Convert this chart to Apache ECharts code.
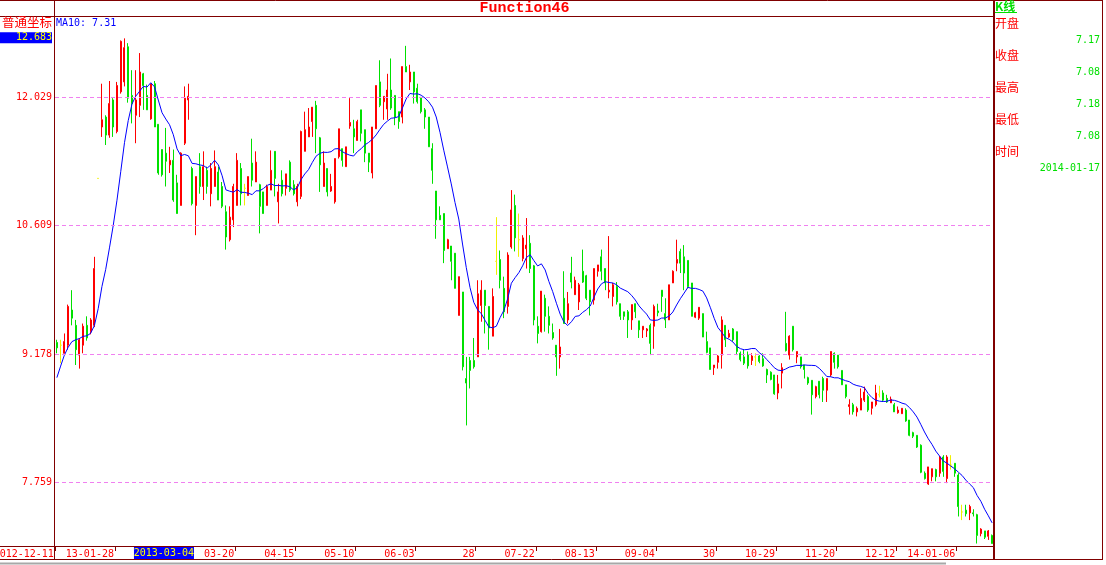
<!DOCTYPE html>
<html><head><meta charset="utf-8">
<script src="https://cdn.jsdelivr.net/npm/echarts@6/dist/echarts.min.js"></script>
<style>html,body{margin:0;padding:0;background:#fff;overflow:hidden}#c{width:1106px;height:565px}</style>
</head><body><div id="c"></div>
<script>
// ---- data ----
const opens = [9.31,9.28,9.19,9.28,9.67,9.50,9.17,9.28,9.50,9.43,
9.50,11.13,11.70,11.81,11.61,12.00,11.65,12.09,12.20,12.59,
12.05,11.83,11.94,12.29,12.05,11.79,12.18,11.73,11.45,11.41,
11.28,11.33,11.08,10.83,11.52,12.00,11.24,10.83,11.26,11.04,
11.22,10.96,11.04,11.20,11.04,10.76,10.45,10.67,10.83,11.24,
11.02,10.94,11.30,11.09,11.06,10.98,10.83,11.00,11.43,10.87,
11.11,11.02,11.31,11.06,10.87,10.93,11.43,11.59,11.76,11.94,
11.58,11.04,11.24,10.99,10.87,11.37,11.46,11.26,11.71,11.68,
11.55,11.89,11.67,11.41,11.19,11.68,12.20,11.98,11.90,12.11,
12.05,11.87,11.81,12.37,12.20,12.31,12.13,12.03,11.89,11.81,
11.46,10.99,10.72,10.74,10.35,10.38,10.30,9.61,9.87,8.91,
9.11,9.11,9.15,9.72,9.89,9.71,9.38,10.21,10.23,9.91,
9.71,10.37,10.83,10.45,10.24,10.35,10.41,10.16,9.49,9.43,
9.80,9.60,9.42,9.28,9.15,9.80,9.56,10.08,9.84,9.76,
10.10,10.05,9.89,9.78,10.10,10.26,10.13,9.87,9.82,9.93,
9.74,9.65,9.65,9.56,9.74,9.55,9.45,9.44,9.50,9.49,
9.66,9.89,9.63,9.56,9.97,10.19,10.32,10.26,10.22,9.97,
9.59,9.58,9.63,9.32,9.25,9.03,9.09,9.17,9.50,9.37,
9.46,9.43,9.19,9.15,9.17,9.11,9.15,9.16,9.13,9.01,
8.98,8.95,8.75,8.97,9.30,9.17,9.49,9.15,9.15,9.06,
8.92,8.89,8.71,8.88,8.91,8.78,8.95,9.19,9.17,9.00,
8.84,8.60,8.62,8.54,8.56,8.67,8.71,8.58,8.62,8.73,
8.75,8.69,8.64,8.62,8.53,8.52,8.56,8.45,8.31,8.28,
8.17,7.86,7.74,7.82,7.90,7.86,8.04,7.80,7.95,7.97,
7.84,7.43,7.45,7.42,7.42,7.40,7.19,7.22,7.16,7.17];
const closes = [9.25,9.28,9.32,9.71,9.58,9.23,9.34,9.49,9.36,9.56,
10.13,11.13,11.78,11.61,11.96,11.70,12.16,12.65,12.58,12.02,
11.96,12.00,12.31,12.16,11.89,12.18,11.70,11.19,11.17,11.32,
11.33,10.89,10.74,11.41,12.02,12.04,10.85,11.15,11.04,11.26,
11.04,11.24,11.26,10.89,10.82,10.48,10.70,11.04,11.33,10.96,
11.02,11.15,11.11,11.31,10.82,10.74,11.04,11.22,11.13,10.98,
10.96,11.18,11.00,10.96,11.04,11.65,11.67,11.70,11.92,11.68,
11.28,11.30,10.98,11.04,11.35,11.68,11.33,11.48,11.75,11.59,
11.76,11.63,11.41,11.31,11.70,12.16,11.94,12.04,12.11,11.91,
11.81,11.76,12.37,12.31,12.31,12.09,11.98,11.87,11.81,11.48,
11.22,10.67,10.67,10.33,10.45,10.21,9.91,10.04,9.04,8.86,
9.00,9.04,9.85,9.89,9.72,9.47,9.82,10.21,10.00,9.65,
10.28,10.78,10.47,10.45,10.47,10.39,10.13,9.56,9.41,9.88,
9.60,9.50,9.36,9.15,9.26,9.52,9.74,9.98,10.00,9.95,
9.98,9.80,9.76,10.13,10.17,10.10,9.97,9.89,9.95,9.76,
9.60,9.60,9.56,9.73,9.65,9.45,9.49,9.46,9.30,9.71,
9.64,9.82,9.56,9.95,10.10,10.23,10.19,10.08,9.93,9.60,
9.64,9.70,9.37,9.20,9.01,9.06,9.16,9.56,9.34,9.41,
9.34,9.21,9.12,9.08,9.05,9.16,9.15,9.10,9.05,8.95,
8.90,8.74,8.85,9.03,9.22,9.38,9.23,9.21,9.04,9.01,
8.86,8.73,8.82,8.73,8.78,8.91,9.21,9.09,9.04,8.84,
8.71,8.62,8.54,8.58,8.69,8.76,8.56,8.65,8.75,8.73,
8.67,8.65,8.68,8.54,8.56,8.58,8.44,8.28,8.27,8.15,
7.87,7.80,7.93,7.91,7.82,8.04,7.88,8.04,7.95,7.86,
7.49,7.43,7.41,7.49,7.41,7.17,7.24,7.15,7.22,7.08];
const lows = [9.19,9.08,9.19,9.23,9.50,9.06,9.02,9.19,9.33,9.40,
9.48,11.13,11.59,11.50,11.58,11.59,11.63,12.07,12.15,11.97,
11.74,11.52,11.81,11.89,11.89,11.78,11.70,11.17,11.15,11.04,
11.19,10.87,10.74,10.83,11.50,11.78,10.83,10.50,10.96,10.89,
10.96,10.82,11.04,10.89,10.80,10.34,10.43,10.59,10.83,10.83,
10.83,10.94,11.04,11.09,10.52,10.74,10.83,11.00,10.93,10.63,
10.93,10.94,10.98,10.94,10.82,10.90,11.43,11.59,11.59,11.41,
10.98,11.04,10.93,10.98,10.85,11.35,11.26,11.26,11.68,11.41,
11.55,11.54,11.31,11.20,11.13,11.68,11.92,11.78,11.78,11.89,
11.72,11.68,11.74,12.31,12.11,11.96,11.96,11.85,11.68,11.48,
11.07,10.46,10.67,10.19,10.35,10.00,9.91,9.61,9.00,8.39,
8.80,9.02,9.15,9.54,9.41,9.23,9.38,10.06,9.91,9.58,
9.63,10.35,10.32,10.26,10.21,10.13,10.08,9.50,9.30,9.42,
9.43,9.41,9.34,8.94,9.02,9.52,9.52,9.91,9.84,9.67,
9.97,9.78,9.61,9.73,10.04,10.00,9.89,9.80,9.71,9.73,
9.56,9.56,9.36,9.45,9.58,9.36,9.36,9.37,9.17,9.24,
9.60,9.65,9.47,9.56,9.97,10.10,10.08,9.89,9.91,9.60,
9.58,9.56,9.37,9.19,9.01,8.95,9.02,9.02,9.26,9.36,
9.32,9.17,9.10,9.06,9.02,9.06,9.05,9.08,9.04,8.86,
8.89,8.73,8.68,8.80,9.21,9.12,9.21,9.08,9.02,8.91,
8.84,8.51,8.69,8.69,8.65,8.65,8.93,9.02,9.02,8.84,
8.69,8.51,8.51,8.49,8.56,8.65,8.54,8.51,8.60,8.70,
8.65,8.64,8.64,8.54,8.52,8.52,8.43,8.27,8.25,8.14,
7.86,7.79,7.73,7.77,7.77,7.82,7.82,7.75,7.90,7.82,
7.38,7.34,7.38,7.34,7.38,7.08,7.16,7.13,7.12,7.08];
const highs = [9.34,9.34,9.41,9.73,9.89,9.56,9.36,9.52,9.60,9.58,
10.26,11.13,12.18,11.83,12.21,12.02,12.20,12.66,12.683,12.63,
12.33,12.33,12.52,12.30,12.17,12.18,12.21,11.73,11.45,11.69,
11.48,11.45,11.17,11.42,12.15,12.18,11.26,11.15,11.41,11.43,
11.26,11.30,11.44,11.26,11.09,10.83,10.82,11.07,11.41,11.30,
11.07,11.15,11.57,11.43,11.07,10.98,11.06,11.44,11.43,11.07,
11.22,11.18,11.33,11.11,11.07,11.66,11.87,11.91,11.92,11.99,
11.59,11.43,11.24,11.18,11.35,11.68,11.46,11.48,12.02,11.78,
11.78,11.89,11.67,11.41,11.70,12.16,12.44,12.04,12.29,12.46,
12.05,11.87,12.37,12.60,12.39,12.31,12.18,12.03,11.91,11.81,
11.52,10.99,10.82,10.74,10.46,10.38,10.30,10.04,9.87,9.15,
9.15,9.36,10.00,10.00,9.89,9.71,9.91,10.70,10.33,10.04,
10.31,11.00,10.95,10.74,10.50,10.69,10.50,10.17,9.60,9.88,
9.84,9.71,9.52,9.28,9.46,10.10,9.87,10.26,10.04,9.97,
10.34,10.06,9.89,10.13,10.17,10.34,10.13,10.49,9.97,9.98,
9.74,9.65,9.67,9.73,9.74,9.55,9.49,9.47,9.52,9.73,
9.74,9.89,9.80,9.95,10.11,10.45,10.35,10.39,10.22,9.97,
9.65,9.70,9.63,9.43,9.25,9.06,9.17,9.60,9.50,9.45,
9.47,9.43,9.21,9.23,9.21,9.19,9.19,9.17,9.19,9.02,
8.99,8.95,8.95,9.08,9.65,9.39,9.49,9.21,9.15,9.06,
8.93,8.89,8.83,8.88,8.93,8.91,9.21,9.20,9.17,9.00,
8.84,8.68,8.64,8.60,8.80,8.82,8.73,8.65,8.84,8.83,
8.78,8.73,8.71,8.64,8.60,8.58,8.58,8.45,8.32,8.28,
8.18,7.88,7.93,7.91,7.91,8.05,8.06,8.06,8.06,7.97,
7.86,7.51,7.51,7.51,7.46,7.41,7.25,7.22,7.23,7.18];
// closes before the visible window, used only to start the MA10 line
const priorCloses = [8.00,8.10,8.85,8.95,9.02,9.20,9.25,9.30,9.28];
const gridValues = [12.029, 10.609, 9.178, 7.759];
const tickStep = 16;
const tickLabels = ['2012-12-11','13-01-28','02-26','03-20','04-15','05-10','06-03','28','07-22','08-13','09-04','30','10-29','11-20','12-12','14-01-06'];
const cursorIndex = 36;
const cursorLabel = '2013-03-04';
const lastDate = '2014-01-17';
const maPeriod = 10;
const titleText = 'Function46';
const yMin = 7.0525, yMax = 12.92;

// ---- build ----
const N = closes.length;
const categories = closes.map((_, i) => i);
const ohlc = closes.map((c, i) => [opens[i], c, lows[i], highs[i]]);
const allCloses = priorCloses.concat(closes);
const ma = closes.map((_, i) => {
  let s = 0; for (let k = 0; k < maPeriod; k++) s += allCloses[i + priorCloses.length - k];
  return +(s / maPeriod).toFixed(4);
});
const MONO = '"DejaVu Sans Mono", monospace';
const CJK = '"Noto Sans CJK SC", sans-serif';
const RED = '#ff0000', GREEN = '#00e000', FRAME = '#800000';

const chart = echarts.init(document.getElementById('c'), null, {renderer: 'canvas'});
chart.setOption({
  animation: false,
  backgroundColor: '#ffffff',
  grid: {left: 55, right: 112, top: 17, bottom: 19, containLabel: false, outerBoundsMode: 'none'},
  xAxis: {
    type: 'category', data: categories, boundaryGap: true,
    axisLine: {show: false},
    axisTick: {show: true, length: 5, interval: (i) => i % tickStep === 0, lineStyle: {color: FRAME, width: 1}},
    axisLabel: {
      show: true, hideOverlap: false,
      interval: (i) => i % tickStep === 0 && i / tickStep !== Math.floor(cursorIndex / tickStep),
      formatter: (v, i) => tickLabels[Math.round(i / tickStep)] || '',
      color: RED, fontFamily: MONO, fontSize: 10, align: 'right', padding: [0, 3, 0, 0], margin: 3
    },
    splitLine: {show: false}
  },
  yAxis: {type: 'value', min: yMin, max: yMax, show: false, splitLine: {show: false}},
  series: [{
    type: 'candlestick', data: ohlc, barWidth: 1.5, barMinWidth: 1,
    itemStyle: {color: RED, color0: GREEN, borderColor: RED, borderColor0: GREEN, borderColorDoji: '#f0f000', borderWidth: 1},
    markLine: {
      silent: true, symbol: ['none', 'none'], animation: false, precision: 3,
      lineStyle: {color: '#f080f0', type: [4, 3], width: 1},
      label: {show: true, position: 'start', distance: 3, formatter: (p) => Number(p.value).toFixed(3), color: RED, fontFamily: MONO, fontSize: 10},
      emphasis: {disabled: true},
      data: gridValues.map(v => ({yAxis: v}))
    }
  }, {
    type: 'line', data: ma, symbol: 'none', showSymbol: false, smooth: false,
    lineStyle: {color: '#0000ff', width: 1}, z: 3
  }]
});

// ---- overlay texts & frame ----
const px = (i) => chart.convertToPixel({xAxisIndex: 0}, i);
const py = (v) => chart.convertToPixel({yAxisIndex: 0}, v);
const band = px(1) - px(0);
const maxHigh = Math.max.apply(null, highs);
const last = N - 1;
function line(x1, y1, x2, y2, color, w) {
  return {type: 'line', silent: true, z: 200, shape: {x1, y1, x2, y2}, style: {stroke: color, lineWidth: w || 1}};
}
function text(t, x, y, fill, font, align) {
  return {type: 'text', silent: true, z: 210, x: 0, y: 0,
    style: {text: t, x, y, fill, font, align: align || 'left', textAlign: align || 'left', verticalAlign: 'top', textVerticalAlign: 'top'}};
}
const curRight = px(cursorIndex) + band / 2;
const yMax0 = py(maxHigh);
const els = [
  line(0, 0.5, 1103, 0.5, FRAME),
  line(0, 16.5, 994, 16.5, FRAME),
  line(54.5, 0, 54.5, 560, FRAME),
  {type: 'rect', silent: true, z: 200, shape: {x: 993, y: 0, width: 2, height: 560}, style: {fill: FRAME}},
  line(0, 546.5, 994, 546.5, FRAME),
  line(0, 559.5, 1103, 559.5, FRAME),
  line(1102.5, 0, 1102.5, 560, FRAME),
  line(0, 563.5, 946, 563.5, '#a8a8a8', 2),
  text(titleText, 524.5, 1, RED, 'bold 15px "Liberation Mono", monospace', 'center'),
  text('普通坐标', 2, 16, RED, '12.5px ' + CJK),
  {type: 'rect', silent: true, z: 205, shape: {x: 0, y: yMax0 - 6, width: 52, height: 11}, style: {fill: '#0000ff'}},
  text(maxHigh.toFixed(3), 52, yMax0 - 5.5, '#ffff00', '10px ' + MONO, 'right'),
  text('MA10: ' + ma[last].toFixed(2), 56, 18, '#0000ff', '10px ' + MONO),
  {type: 'rect', silent: true, z: 205, shape: {x: curRight - 60, y: 547, width: 60, height: 12}, style: {fill: '#0000ff'}},
  text(cursorLabel, curRight, 548.5, '#ffff00', '10px ' + MONO, 'right'),
  text('K线', 995, 0, '#00e000', 'bold 12px ' + CJK),
  line(995, 12.5, 1017, 12.5, '#00e000'),
];
const panel = [['开盘', opens[last].toFixed(2)], ['收盘', closes[last].toFixed(2)], ['最高', highs[last].toFixed(2)], ['最低', lows[last].toFixed(2)], ['时间', lastDate]];
panel.forEach((p, k) => {
  els.push(text(p[0], 995, 17 + 32 * k, RED, '12px ' + CJK));
  els.push(text(p[1], 1100, 35.5 + 32 * k, '#00e000', '10px ' + MONO, 'right'));
});
chart.setOption({graphic: {elements: els}});
</script></body></html>
